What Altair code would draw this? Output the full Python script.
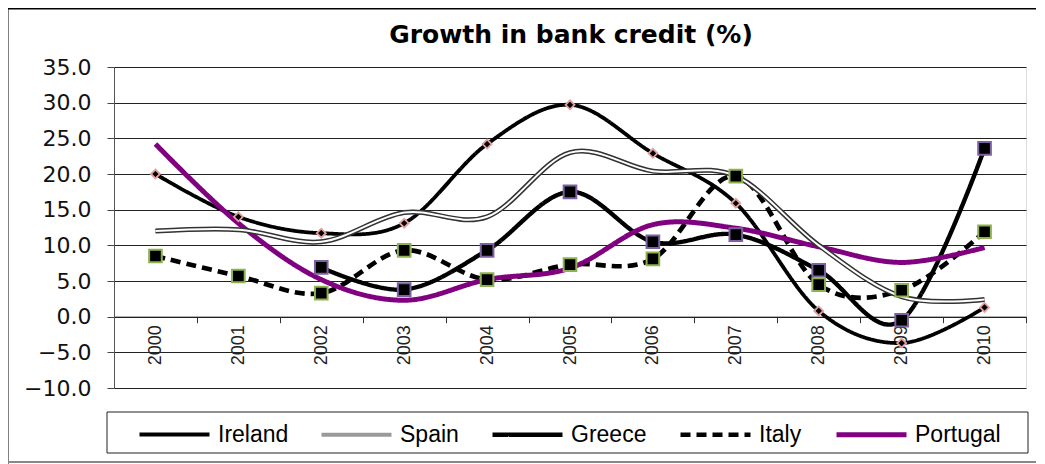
import altair as alt
import pandas as pd

years = ["2000", "2001", "2002", "2003", "2004", "2005", "2006", "2007", "2008", "2009", "2010"]
series_names = ["Ireland", "Spain", "Greece", "Italy", "Portugal"]
ireland = [20.0, 14.0, 11.7, 13.1, 24.2, 29.7, 22.9, 15.9, 0.8, -3.7, 1.3]
spain = [12.0, 12.2, 10.5, 14.6, 14.0, 23.0, 20.4, 19.7, 10.0, 2.8, 2.4]
greece = [None, None, 6.9, 3.8, 9.3, 17.5, 10.5, 11.5, 6.5, -0.5, 23.6]
italy = [8.5, 5.7, 3.3, 9.3, 5.2, 7.3, 8.1, 19.7, 4.5, 3.7, 11.9]
portugal = [24.2, 13.1, 5.2, 2.3, 5.2, 6.8, 12.9, 12.4, 9.8, 7.6, 9.7]
y_ticks = [-10, -5, 0, 5, 10, 15, 20, 25, 30, 35]
title_text = "Growth in bank credit (%)"

rows = []
for name, vals in zip(series_names, [ireland, spain, greece, italy, portugal]):
    for yr, v in zip(years, vals):
        if v is not None:
            rows.append({"year": yr, "value": v, "series": name})
df = pd.DataFrame(rows)

FONT = "Liberation Sans"
WIDE = "DejaVu Sans"
W, H = 912, 321

x_enc = alt.X(
    "year:O",
    bandPosition=0.5,
    scale=alt.Scale(type="band", domain=years, paddingInner=0, paddingOuter=0),
    axis=alt.Axis(
        title=None, labelAngle=270, labelFontSize=18, labelFont=FONT, labelColor="#222",
        tickBand="extent", tickSize=6, tickColor="#333", domainColor="#222",
        labelPadding=2, offset=-71.33, grid=False, labelAlign="right", labelBaseline="middle",
    ),
)
y_enc = alt.Y(
    "value:Q",
    scale=alt.Scale(domain=[-10, 35], nice=False, zero=False),
    axis=alt.Axis(
        title=None, values=y_ticks, format=".1f", labelFontSize=22, labelFont=WIDE,
        labelColor="#111", tickSize=7, tickColor="#444", domainColor="#555",
        gridColor="#222", gridWidth=1, labelPadding=16,
    ),
)

leg = dict(
    title=None, orient="none", legendX=23, legendY=330, direction="horizontal", columns=5,
    symbolType="stroke", symbolSize=4900, labelFontSize=23, labelFont=FONT,
    labelColor="#000", labelOffset=6, columnPadding=24,
)

base = alt.Chart(df)

lines = base.mark_line(interpolate="cardinal", tension=0).encode(
    x=x_enc,
    y=y_enc,
    color=alt.Color(
        "series:N",
        scale=alt.Scale(domain=series_names, range=["#000000", "#9a9a9a", "#000000", "#000000", "#800080"]),
        legend=alt.Legend(**leg),
    ),
    strokeDash=alt.StrokeDash(
        "series:N",
        scale=alt.Scale(domain=series_names, range=[[1, 0], [1, 0], [1, 0], [10, 6], [1, 0]]),
        legend=alt.Legend(**leg),
    ),
    strokeWidth=alt.StrokeWidth(
        "series:N",
        scale=alt.Scale(domain=series_names, range=[3.8, 5, 6.5, 3.5, 3.5]),
        legend=alt.Legend(**leg),
    ),
)

spain_outer = base.transform_filter(alt.datum.series == "Spain").mark_line(
    interpolate="cardinal", tension=0, color="#333333", strokeWidth=5
).encode(x=x_enc, y=y_enc)

spain_inner = base.transform_filter(alt.datum.series == "Spain").mark_line(
    interpolate="cardinal", tension=0, color="white", strokeWidth=2
).encode(x=x_enc, y=y_enc)

ireland_pts = base.transform_filter(alt.datum.series == "Ireland").mark_point(
    shape="diamond", filled=True, fill="#000000", stroke="#e3a0a0", strokeWidth=1.8, size=80, opacity=1
).encode(x=x_enc, y=y_enc)

greece_pts = base.transform_filter(alt.datum.series == "Greece").mark_point(
    shape="square", filled=True, fill="#000000", stroke="#7d62a2", strokeWidth=2, size=160, opacity=1
).encode(x=x_enc, y=y_enc)

italy_pts = base.transform_filter(alt.datum.series == "Italy").mark_point(
    shape="square", filled=True, fill="#000000", stroke="#8db24f", strokeWidth=2, size=160, opacity=1
).encode(x=x_enc, y=y_enc)

one = pd.DataFrame({"t": [title_text]})
outer_frame = alt.Chart(one).mark_rect(filled=False, stroke="#000", strokeWidth=3).encode(
    x=alt.value(-107), x2=alt.value(1100), y=alt.value(-59), y2=alt.value(420)
)
bottom_line = alt.Chart(one).mark_rule(stroke="#888", strokeWidth=2).encode(
    x=alt.value(-107), x2=alt.value(1100), y=alt.value(395)
)
legend_box = alt.Chart(one).mark_rect(filled=False, stroke="#222", strokeWidth=1).encode(
    x=alt.value(-7), x2=alt.value(914), y=alt.value(345), y2=alt.value(386)
)
title = alt.Chart(one).mark_text(
    font=WIDE, fontSize=25, fontWeight="bold", color="#000", align="center", baseline="alphabetic"
).encode(text="t:N", x=alt.value(457), y=alt.value(-24))

chart = alt.layer(
    outer_frame, bottom_line, legend_box, title, lines, spain_outer, spain_inner,
    ireland_pts, greece_pts, italy_pts
).properties(
    width=W,
    height=H,
    autosize=alt.AutoSizeParams(type="none"),
    padding={"left": 106, "top": 59, "right": 10, "bottom": 76},
).configure_view(
    stroke="#555", strokeWidth=1
).configure(background="white")

chart.save("out.html", embed_options={"renderer": "svg", "actions": False})
